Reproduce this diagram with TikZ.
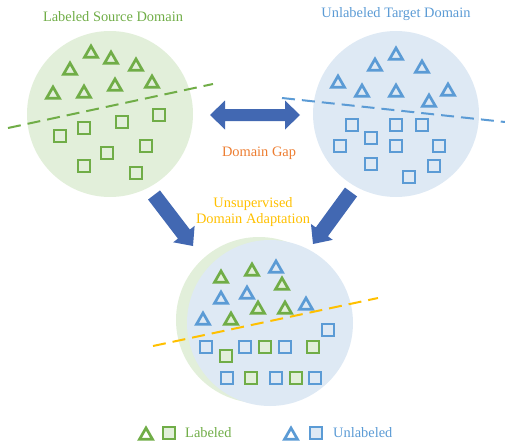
\documentclass[tikz,border=0pt]{standalone}
\usepackage{fontspec}
\setmainfont{Liberation Serif}
\usetikzlibrary{shapes.geometric,calc}
\definecolor{cgreen}{RGB}{112,173,71}
\definecolor{cgreenbg}{RGB}{226,239,218}
\definecolor{cblue}{RGB}{91,155,213}
\definecolor{cbluebg}{RGB}{222,233,244}
\definecolor{carrow}{RGB}{66,104,178}
\definecolor{corange}{RGB}{237,125,49}
\definecolor{cgold}{RGB}{255,192,0}
\newcommand\blockarrow[5]{% tail, tip, shaft half width, head half width, head length
  \coordinate (#1-b) at ($(#2)!#5!(#1)$);
  \fill[carrow] ($(#1)!#3!90:(#2)$) -- ($(#1-b)!#3!-90:(#1)$) -- ($(#1-b)!#4!-90:(#1)$) -- (#2)
    -- ($(#1-b)!#4!90:(#1)$) -- ($(#1-b)!#3!90:(#1)$) -- ($(#1)!#3!-90:(#2)$) -- cycle;}
\begin{document}
\begin{tikzpicture}[x=1pt,y=-1pt,
  tri/.style={regular polygon, regular polygon sides=3, minimum size=15pt, inner sep=0pt, line width=2.7pt, yshift=-2.5pt},
  sq/.style={rectangle, minimum size=12pt, inner sep=0pt, line width=2.5pt},
  gs/.style={draw=cgreen},
  gsf/.style={draw=cgreen, fill=cgreenbg},
  bs/.style={draw=cblue},
  bsf/.style={draw=cblue, fill=cbluebg},
  disk/.style={circle, minimum size=166pt, inner sep=0pt},
  lbl/.style={font=\fontsize{14.4}{17}\selectfont, anchor=base, inner sep=0pt},
  dline/.style={line width=2pt, dash pattern=on 13pt off 7pt}]
\useasboundingbox (0,0) rectangle (505,444);
% domains
\node[disk, fill=cgreenbg] (src) at (110,114) {};
\node[disk, fill=cbluebg] (tgt) at (396,114) {};
\node[disk, fill=cgreenbg] (adg) at (259,320) {};
\node[disk, fill=cbluebg] (adb) at (270,323) {};
% titles
\node[lbl, text=cgreen] (tsrc) at (113,21.5) {Labeled Source Domain};
\node[lbl, text=cblue] (ttgt) at (396,17.5) {Unlabeled Target Domain};
\node[lbl, text=corange] (tgap) at (259,156.5) {Domain Gap};
\node[lbl, text=cgold] (tuda1) at (253,207) {Unsupervised};
\node[lbl, text=cgold] (tuda2) at (253,223.5) {Domain Adaptation};
% source shapes
\foreach \x/\y [count=\i] in {91/51,111/57,70/68,136/64,53/92,84/91,115/84,152/81}
  \node[tri, gs] (st\i) at (\x,\y) {};
\foreach \x/\y [count=\i] in {159/115,122/122,84/128,60/136,146/146,107/153,84/166,136/173}
  \node[sq, gs] (ss\i) at (\x,\y) {};
% target shapes
\foreach \x/\y [count=\i] in {396/53,375/64,422/66,338/81,362/90,396/90,448/89,429/100}
  \node[tri, bs] (tt\i) at (\x,\y) {};
\foreach \x/\y [count=\i] in {352/125,396/125,422/125,371/138,340/146,396/146,439/146,371/164,434/166,409/177}
  \node[sq, bs] (ts\i) at (\x,\y) {};
% adapted shapes
\foreach \x/\y [count=\i] in {221/276,252/269,282/283,258/307,285/307,231/318}
  \node[tri, gsf] (agt\i) at (\x,\y) {};
\foreach \x/\y [count=\i] in {276/266,221/297,247/292,306/303,203/318}
  \node[tri, bs] (abt\i) at (\x,\y) {};
\foreach \x/\y [count=\i] in {206/347,245/347,285/347,328/330,227/378,276/378,315/378}
  \node[sq, bsf] (abs\i) at (\x,\y) {};
\foreach \x/\y [count=\i] in {226/356,265/347,313/347,251/378,296/378}
  \node[sq, gsf] (ags\i) at (\x,\y) {};
% decision boundaries
\coordinate (gA) at (8,128); \coordinate (gB) at (213,84);
\coordinate (bA) at (282,98); \coordinate (bB) at (505,122);
\coordinate (oA) at (153,346); \coordinate (oB) at (378,298);
\draw[dline, cgreen] (gA) -- (gB);
\draw[dline, cblue] (bA) -- (bB);
\draw[dline, cgold] (oA) -- (oB);
% arrows
\coordinate (gapL) at (210,115); \coordinate (gapR) at (300,115);
\coordinate (gapL-b) at ($(gapL)!15pt!(gapR)$);
\coordinate (gapR-b) at ($(gapR)!15pt!(gapL)$);
\fill[carrow] (gapL) -- ($(gapL-b)!14.5pt!90:(gapR)$) -- ($(gapL-b)!6pt!90:(gapR)$)
  -- ($(gapR-b)!6pt!-90:(gapL)$) -- ($(gapR-b)!14.5pt!-90:(gapL)$) -- (gapR)
  -- ($(gapR-b)!14.5pt!90:(gapL)$) -- ($(gapR-b)!6pt!90:(gapL)$)
  -- ($(gapL-b)!6pt!-90:(gapR)$) -- ($(gapL-b)!14.5pt!-90:(gapR)$) -- cycle;
\coordinate (tailL) at (154,195); \coordinate (tipL) at (193,246);
\coordinate (tailR) at (351,192); \coordinate (tipR) at (313,244);
\blockarrow{tailL}{tipL}{7.5pt}{13.5pt}{15pt}
\blockarrow{tailR}{tipR}{7.5pt}{13.5pt}{15pt}
% legend
\node[tri, gs] (lgt) at (146,433) {};
\node[sq, gsf] (lgs) at (169,433) {};
\node[lbl, anchor=base west, text=cgreen] (lgl) at (185,437.5) {Labeled};
\node[tri, bs] (lbt) at (291,433) {};
\node[sq, bsf] (lbs) at (316,433) {};
\node[lbl, anchor=base west, text=cblue] (lbl) at (333,437.5) {Unlabeled};
\end{tikzpicture}
\end{document}
